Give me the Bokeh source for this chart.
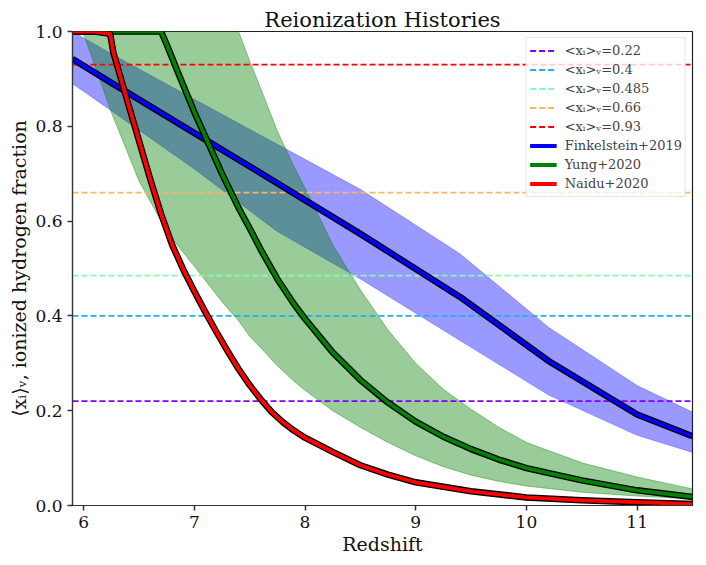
from bokeh.plotting import figure
from bokeh.models import Range1d, FixedTicker, NumeralTickFormatter, Legend, LegendItem
from bokeh.embed import file_html
from bokeh.resources import INLINE

# ---------------- data ----------------
z_lim = [5.9, 11.5]
y_lim = [0.0, 1.0]
x_ticks = [6, 7, 8, 9, 10, 11]
y_ticks = [0.0, 0.2, 0.4, 0.6, 0.8, 1.0]

xi_levels = [0.22, 0.4, 0.485, 0.66, 0.93]
xi_colors = ["#8000ff", "#1ab2ec", "#80ffb4", "#ffb360", "#ff0000"]
xi_labels = ["<xᵢ>ᵥ=0.22", "<xᵢ>ᵥ=0.4", "<xᵢ>ᵥ=0.485", "<xᵢ>ᵥ=0.66", "<xᵢ>ᵥ=0.93"]

# Finkelstein+2019
z_fink = [5.9, 6.25, 7.0, 7.75, 8.5, 9.4, 10.2, 11.0, 11.5]
x_fink = [0.942, 0.892, 0.786, 0.680, 0.573, 0.440, 0.305, 0.192, 0.146]
x_fink_hi = [1.0, 0.953, 0.857, 0.762, 0.667, 0.531, 0.376, 0.253, 0.197]
x_fink_lo = [0.89, 0.833, 0.71, 0.578, 0.478, 0.348, 0.233, 0.148, 0.112]

# Yung+2020
z_yung = [5.9, 6.0, 6.25, 6.5, 6.7, 6.75, 6.85, 7.0, 7.25, 7.4, 7.5, 7.6, 7.75, 7.9, 8.0,
          8.25, 8.5, 8.75, 9.0, 9.25, 9.5, 9.75, 10.0, 10.5, 11.0, 11.5]
x_yung = [1.0, 1.0, 1.0, 1.0, 1.0, 0.973, 0.915, 0.83, 0.70, 0.628, 0.585, 0.54, 0.478, 0.425,
          0.394, 0.323, 0.265, 0.217, 0.177, 0.145, 0.119, 0.097, 0.079, 0.053, 0.032, 0.018]
x_yung_hi = [1.0, 1.0, 1.0, 1.0, 1.0, 1.0, 1.0, 1.0, 1.0, 1.0, 0.938, 0.88, 0.79, 0.715, 0.67,
             0.55, 0.455, 0.37, 0.30, 0.245, 0.203, 0.165, 0.133, 0.09, 0.06, 0.035]
x_yung_lo = [1.0, 0.995, 0.83, 0.685, 0.6, 0.58, 0.548, 0.505, 0.43, 0.39, 0.357, 0.333, 0.295,
             0.262, 0.243, 0.2, 0.165, 0.133, 0.105, 0.082, 0.064, 0.051, 0.041, 0.028, 0.02, 0.014]

# Naidu+2020
z_naidu = [5.9, 6.1, 6.24, 6.27, 6.4, 6.5, 6.6, 6.7, 6.8, 6.9, 7.0, 7.1, 7.2, 7.3, 7.4,
           7.5, 7.6, 7.7, 7.8, 7.9, 8.0, 8.25, 8.5, 8.75, 9.0, 9.5, 10.0, 10.5, 11.0, 11.5]
x_naidu = [1.0, 1.0, 0.995, 0.955, 0.85, 0.77, 0.69, 0.615, 0.55, 0.498, 0.452, 0.408, 0.366,
           0.326, 0.288, 0.254, 0.224, 0.197, 0.176, 0.158, 0.143, 0.113, 0.085, 0.065, 0.049,
           0.03, 0.017, 0.011, 0.007, 0.003]

SERIF = "DejaVu Serif"

p = figure(width=700, height=560, output_backend="svg", toolbar_location=None,
           x_range=Range1d(*z_lim), y_range=Range1d(*y_lim),
           min_border_left=72, min_border_right=8, min_border_top=31, min_border_bottom=55,
           title="Reionization Histories")
p.title.text_font = SERIF
p.title.text_font_size = "21px"
p.title.text_font_style = "normal"
p.title.text_color = "#111111"
p.title.align = "center"
p.title.standoff = 0
p.title.text_line_height = 1.0

p.xgrid.visible = False
p.ygrid.visible = False
p.outline_line_color = "#222222"
p.outline_line_width = 1.2

for ax in (p.xaxis[0], p.yaxis[0]):
    ax.major_label_text_font = SERIF
    ax.major_label_text_font_size = "17px"
    ax.major_label_text_color = "#111111"
    ax.axis_label_text_font = SERIF
    ax.axis_label_text_font_size = "19px"
    ax.axis_label_text_font_style = "normal"
    ax.axis_label_text_color = "#111111"
    ax.axis_line_color = "#333333"
    ax.axis_line_width = 1.2
    ax.major_tick_line_color = "#333333"
    ax.major_tick_line_width = 1.5
    ax.major_tick_out = 5
    ax.major_tick_in = 0
    ax.minor_tick_line_color = None
    ax.major_label_standoff = 5
    ax.axis_label_standoff = 2

p.xaxis[0].ticker = FixedTicker(ticks=x_ticks)
p.yaxis[0].ticker = FixedTicker(ticks=y_ticks)
p.yaxis[0].formatter = NumeralTickFormatter(format="0.0")
p.xaxis[0].axis_label = "Redshift"
p.yaxis[0].axis_label = "⟨xᵢ⟩ᵥ, ionized hydrogen fraction"

# bands
p.varea(x=z_fink, y1=x_fink_lo, y2=x_fink_hi, fill_color="blue", fill_alpha=0.4)
p.line(z_fink, x_fink_hi, line_color="blue", line_alpha=0.25, line_width=1)
p.line(z_fink, x_fink_lo, line_color="blue", line_alpha=0.25, line_width=1)
p.varea(x=z_yung, y1=x_yung_lo, y2=x_yung_hi, fill_color="green", fill_alpha=0.4)
p.line(z_yung, x_yung_hi, line_color="green", line_alpha=0.4, line_width=1)
p.line(z_yung, x_yung_lo, line_color="green", line_alpha=0.4, line_width=1)

items = []
for lev, col, lab in zip(xi_levels, xi_colors, xi_labels):
    r = p.line(z_lim, [lev, lev], line_color=col, line_width=1.8, line_dash="6 3")
    items.append(LegendItem(label=lab, renderers=[r]))

for zz, xx, col, lab in [(z_fink, x_fink, "blue", "Finkelstein+2019"),
                         (z_yung, x_yung, "green", "Yung+2020"),
                         (z_naidu, x_naidu, "red", "Naidu+2020")]:
    p.line(zz, xx, line_color="black", line_width=6.5, line_join="round")
    r = p.line(zz, xx, line_color=col, line_width=3.8, line_join="round")
    items.append(LegendItem(label=lab, renderers=[r]))

legend = Legend(items=items, location="top_right", margin=6, padding=3, spacing=0,
                label_text_font=SERIF, label_text_font_size="13px",
                label_height=19, glyph_height=19, glyph_width=27, label_standoff=8,
                border_line_color="#cccccc", border_line_width=1,
                background_fill_color="white", background_fill_alpha=0.8)
p.add_layout(legend, "center")

open("out.html", "w").write(file_html(p, INLINE))
